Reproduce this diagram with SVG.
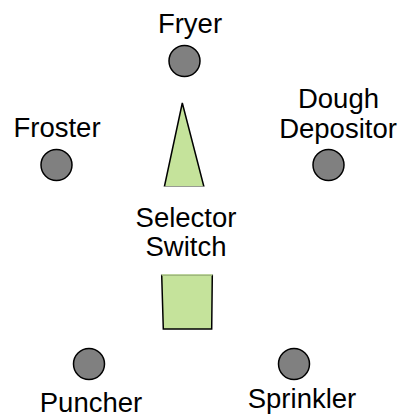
<svg xmlns="http://www.w3.org/2000/svg" width="401" height="419" viewBox="0 0 401 419">
<style>
.lbl{font-family:"Liberation Sans",Arial,sans-serif;font-size:27.5px;fill:#000;text-anchor:middle}
.pin{fill:#808080;stroke:#000;stroke-width:1.5}
.sw{fill:#c5e39b;stroke:#000;stroke-width:1.5;stroke-linejoin:miter}
</style>
<rect width="401" height="419" fill="#fff"/>
<g id="selector-switch">
<polygon class="sw" points="182.3,103 164.3,187 204,187"/>
<polygon class="sw" points="161.7,275 212.3,275 211.7,329 163.3,329"/>
<rect x="150" y="186.5" width="70" height="88" fill="#fff"/>
<line x1="161.7" y1="275" x2="212.3" y2="275" stroke="#c5e39b" stroke-width="1.5"/>
<text class="lbl" x="186" y="226.5">Selector</text>
<text class="lbl" x="186" y="256">Switch</text>
</g>
<g id="fryer">
<circle class="pin" cx="184.5" cy="61" r="15.5"/>
<text class="lbl" x="190" y="33">Fryer</text>
</g>
<g id="froster">
<circle class="pin" cx="56.5" cy="165" r="15.5"/>
<text class="lbl" x="57" y="137">Froster</text>
</g>
<g id="dough-depositor">
<circle class="pin" cx="328.5" cy="165" r="15.5"/>
<text class="lbl" x="338.5" y="108">Dough</text>
<text class="lbl" x="338" y="137.5">Depositor</text>
</g>
<g id="puncher">
<circle class="pin" cx="89" cy="364" r="15.5"/>
<text class="lbl" x="91" y="412">Puncher</text>
</g>
<g id="sprinkler">
<circle class="pin" cx="294" cy="364" r="15.5"/>
<text class="lbl" x="302" y="408">Sprinkler</text>
</g>
<g id="connectors"/>
</svg>
